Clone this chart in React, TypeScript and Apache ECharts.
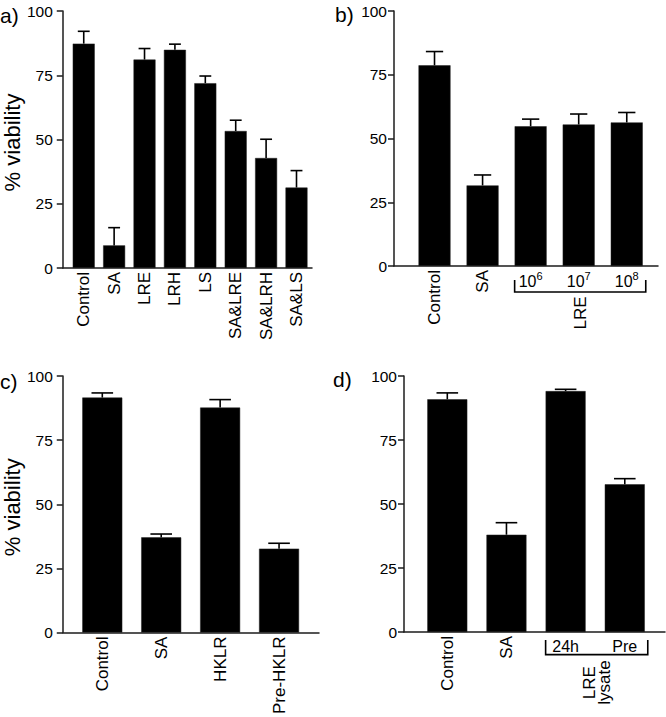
import React, { useEffect, useRef } from 'react';
import * as echarts from 'echarts';

// ---------- data ----------
const aCategories = ['Control', 'SA', 'LRE', 'LRH', 'LS', 'SA&LRE', 'SA&LRH', 'SA&LS'];
const aValues = [87.3, 8.8, 81.1, 84.9, 71.9, 53.3, 42.8, 31.3];
const aErrors = [4.8, 6.9, 4.3, 2.2, 2.8, 4.2, 7.3, 6.6];

const bCategories = ['Control', 'SA'];
const bDoses = ['10^6', '10^7', '10^8'];
const bValues = [78.7, 31.6, 54.8, 55.5, 56.3];
const bErrors = [5.4, 4.1, 2.8, 4.1, 3.9];
const bGroupLabel = 'LRE';

const cCategories = ['Control', 'SA', 'HKLR', 'Pre-HKLR'];
const cValues = [91.6, 37.1, 87.7, 32.7];
const cErrors = [1.8, 1.3, 3.1, 2.1];

const dCategories = ['Control', 'SA'];
const dLysates = ['24h', 'Pre'];
const dValues = [90.9, 38.0, 94.1, 57.7];
const dErrors = [2.5, 4.7, 0.7, 2.2];
const dGroupLabel = 'LRE\nlysate';

const yTickStep = 25;
const yMax = 100;
const yAxisTitle = '% viability';
const panelLetters = ['a)', 'b)', 'c)', 'd)'];

const FONT = "'Liberation Sans', Arial, Helvetica, sans-serif";
const INK = '#000';
const AXIS = '#1c1c1c';

const grids = [
  { left: 60, top: 11, width: 252, height: 257 },
  { left: 394, top: 11, width: 264, height: 255 },
  { left: 62, top: 376, width: 257, height: 257 },
  { left: 404, top: 376, width: 261, height: 256 },
];
const xRanges = [
  [-0.69, 7.51],
  [-0.843, 4.65],
  [-0.671, 3.678],
  [-0.732, 3.68],
];
const barWidths = [22, 32, 40, 40];
const yLabelMargins = [10, 7, 10, 7];

function range(n: number, start = 0) {
  return Array.from({ length: n }, (_, i) => i + start);
}

function makeXAxis(gridIndex: number, custom: number[], formatter: (v: number) => string, rotated: boolean, extra: any = {}) {
  return {
    type: 'value',
    gridIndex,
    position: 'bottom',
    min: xRanges[gridIndex][0],
    max: xRanges[gridIndex][1],
    splitLine: { show: false },
    axisTick: { show: false },
    axisLine: { show: true, onZero: false, lineStyle: { color: AXIS, width: 1.5 } },
    axisLabel: {
      customValues: custom,
      formatter: (v: number) => formatter(Math.round(v)),
      rotate: rotated ? 90 : 0,
      margin: rotated ? 4 : 3,
      color: INK,
      fontFamily: FONT,
      fontSize: rotated ? 17 : 16,
      ...(extra.axisLabel || {}),
    },
    ...(extra.rest || {}),
  };
}

function makeYAxis(gridIndex: number, withName: boolean) {
  return {
    type: 'value',
    gridIndex,
    min: 0,
    max: yMax,
    interval: yTickStep,
    splitLine: { show: false },
    axisLine: { show: true, onZero: false, lineStyle: { color: AXIS, width: 1.5 } },
    axisTick: { show: true, length: 6, lineStyle: { color: AXIS, width: 1.5 } },
    axisLabel: { color: INK, fontFamily: FONT, fontSize: 15.5, margin: yLabelMargins[gridIndex] },
    name: withName ? yAxisTitle : '',
    nameLocation: 'middle',
    nameGap: 34,
    nameTextStyle: { color: INK, fontFamily: FONT, fontSize: 22, padding: [0, 0, 0, -6] },
  };
}

function barSeries(xAxisIndex: number, yAxisIndex: number, values: number[], width: number) {
  return {
    type: 'bar',
    xAxisIndex,
    yAxisIndex,
    barWidth: width,
    data: values.map((v, i) => [i, v]),
    itemStyle: { color: INK, borderColor: '#222', borderWidth: 0.5 },
    silent: true,
  };
}

function errorSeries(xAxisIndex: number, yAxisIndex: number, values: number[], errors: number[], width: number) {
  const cap = width * 0.27;
  return {
    type: 'custom',
    xAxisIndex,
    yAxisIndex,
    silent: true,
    z: 5,
    encode: { x: 0, y: 1 },
    data: values.map((v, i) => [i, v, errors[i]]),
    renderItem: (_p: any, api: any) => {
      const x = api.value(0);
      const v = api.value(1);
      const e = api.value(2);
      const p0 = api.coord([x, v]);
      const p1 = api.coord([x, v + e]);
      const st = { stroke: INK, lineWidth: 1.6 };
      return {
        type: 'group',
        children: [
          { type: 'line', shape: { x1: p0[0], y1: p0[1], x2: p1[0], y2: p1[1] }, style: st },
          { type: 'line', shape: { x1: p1[0] - cap, y1: p1[1], x2: p1[0] + cap, y2: p1[1] }, style: st },
        ],
      };
    },
  };
}

function bracketSeries(xAxisIndex: number, yAxisIndex: number, first: number, last: number, width: number, label: string, tickTop: number, lineOff: number, labelOff: number) {
  return {
    type: 'custom',
    xAxisIndex,
    yAxisIndex,
    silent: true,
    clip: false,
    encode: { x: 0 },
    data: [[first, last]],
    renderItem: (_p: any, api: any) => {
      const a = api.coord([api.value(0), 0]);
      const b = api.coord([api.value(1), 0]);
      const left = a[0] - width / 2;
      const right = b[0] + width / 2 + 3;
      const yLine = a[1] + lineOff;
      const yTop = a[1] + tickTop;
      return {
        type: 'group',
        children: [
          {
            type: 'polyline',
            shape: { points: [[left, yTop], [left, yLine], [right, yLine], [right, yTop]] },
            style: { stroke: INK, lineWidth: 1.6, fill: 'none' },
          },
          {
            type: 'text',
            x: (left + right) / 2,
            y: yLine + labelOff,
            rotation: Math.PI / 2,
            style: {
              text: label,
              align: 'center',
              verticalAlign: 'middle',
              fill: INK,
              font: `17px ${FONT}`,
              lineHeight: 15,
            },
          },
        ],
      };
    },
  };
}

export default function App() {
  const ref = useRef<HTMLDivElement>(null);

  useEffect(() => {
    if (!ref.current) return;
    const chart = echarts.init(ref.current, undefined, { renderer: 'svg' });

    const xAxis = [
      makeXAxis(0, range(aCategories.length), (v) => aCategories[v] ?? '', true),
      makeXAxis(1, range(bCategories.length), (v) => bCategories[v] ?? '', true),
      makeXAxis(
        1,
        range(bDoses.length, bCategories.length),
        (v) => {
          const d = bDoses[v - bCategories.length];
          if (!d) return '';
          const [base, exp] = d.split('^');
          return `{base|${base}}{sup|${exp}}`;
        },
        false,
        {
          axisLabel: {
            rich: {
              base: { fontFamily: FONT, fontSize: 16, color: INK, lineHeight: 20, verticalAlign: 'bottom' },
              sup: { fontFamily: FONT, fontSize: 11, color: INK, lineHeight: 12, verticalAlign: 'top', padding: [1, 0, 0, 0] },
            },
          },
          rest: { axisLine: { show: false } },
        }
      ),
      makeXAxis(2, range(cCategories.length), (v) => cCategories[v] ?? '', true),
      makeXAxis(3, range(dCategories.length), (v) => dCategories[v] ?? '', true),
      makeXAxis(
        3,
        range(dLysates.length, dCategories.length),
        (v) => dLysates[v - dCategories.length] ?? '',
        false,
        { axisLabel: { margin: 6 }, rest: { axisLine: { show: false } } }
      ),
    ];

    const yAxis = [makeYAxis(0, true), makeYAxis(1, false), makeYAxis(2, true), makeYAxis(3, false)];

    const letterPos = [
      [0, 16],
      [335, 15],
      [0, 382],
      [333, 380],
    ];

    const option: any = {
      animation: false,
      backgroundColor: '#fff',
      grid: grids.map((g) => ({ ...g, containLabel: false })),
      xAxis,
      yAxis,
      graphic: panelLetters.map((t, i) => ({
        type: 'text',
        left: letterPos[i][0],
        top: letterPos[i][1] - 11,
        style: { text: t, fill: INK, font: `21px ${FONT}` },
      })),
      series: [
        barSeries(0, 0, aValues, barWidths[0]),
        errorSeries(0, 0, aValues, aErrors, barWidths[0]),
        barSeries(1, 1, bValues, barWidths[1]),
        errorSeries(1, 1, bValues, bErrors, barWidths[1]),
        bracketSeries(1, 1, bCategories.length, bCategories.length + bDoses.length - 1, barWidths[1], bGroupLabel, 14, 26, 21),
        barSeries(3, 2, cValues, barWidths[2]),
        errorSeries(3, 2, cValues, cErrors, barWidths[2]),
        barSeries(4, 3, dValues, barWidths[3]),
        errorSeries(4, 3, dValues, dErrors, barWidths[3]),
        bracketSeries(4, 3, dCategories.length, dCategories.length + dLysates.length - 1, barWidths[3], dGroupLabel, 8, 22.6, 28),
      ],
    };

    chart.setOption(option);
    return () => chart.dispose();
  }, []);

  return (
    <div
      ref={ref}
      style={{ position: 'absolute', left: 0, top: 0, width: 666, height: 717, background: '#fff' }}
    />
  );
}
